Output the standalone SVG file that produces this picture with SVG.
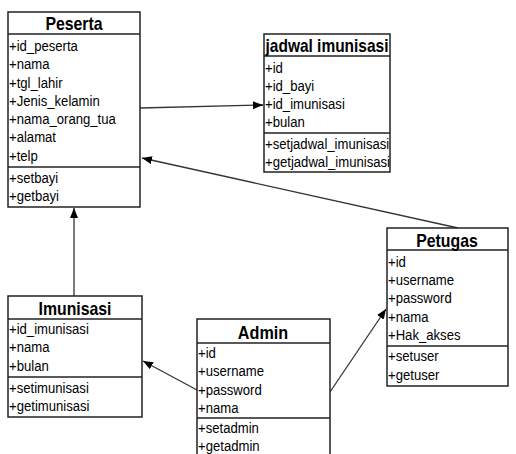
<svg xmlns="http://www.w3.org/2000/svg" width="516" height="454" viewBox="0 0 516 454">
<defs>
<marker id="ah" markerUnits="userSpaceOnUse" markerWidth="10" markerHeight="8" refX="10" refY="4" orient="auto">
<path d="M0,0 L10,4 L0,8 z" fill="#000"/>
</marker>
<style>
.box{fill:#fff;stroke:#222;stroke-width:1.5}
.div{stroke:#222;stroke-width:1.5}
.t{font-family:"Liberation Sans",Arial,sans-serif;font-size:15px;fill:#000}
.h{font-family:"Liberation Sans",Arial,sans-serif;font-size:18px;font-weight:bold;fill:#000;text-anchor:middle}
.c{stroke:#333;stroke-width:1.3;fill:none;marker-end:url(#ah)}
</style>
</defs>
<rect width="516" height="454" fill="#fff"/>
<g id="connectors">
<path class="c" d="M140,108 L263,105"/>
<path class="c" d="M458,228 L142,158"/>
<path class="c" d="M74,296 L74,208"/>
<path class="c" d="M197,390 L143,361"/>
<path class="c" d="M330,392 L386,309"/>
</g>
<g id="peserta">
<rect class="box" x="8" y="12" width="132" height="195"/>
<line class="div" x1="8" y1="34" x2="140" y2="34"/>
<line class="div" x1="8" y1="167" x2="140" y2="167"/>
<text class="h" transform="translate(74 29.5) scale(0.88 1)">Peserta</text>
<g transform="translate(9 0) scale(0.875 1)">
<text class="t" y="51">+id_peserta</text>
<text class="t" y="69">+nama</text>
<text class="t" y="88">+tgl_lahir</text>
<text class="t" y="106">+Jenis_kelamin</text>
<text class="t" y="124">+nama_orang_tua</text>
<text class="t" y="142">+alamat</text>
<text class="t" y="161">+telp</text>
<text class="t" y="183">+setbayi</text>
<text class="t" y="201">+getbayi</text>
</g>
</g>
<g id="jadwal">
<rect class="box" x="264" y="34" width="126" height="138"/>
<line class="div" x1="264" y1="56" x2="390" y2="56"/>
<line class="div" x1="264" y1="133" x2="390" y2="133"/>
<text class="h" transform="translate(327 51.5) scale(0.86 1)">jadwal imunisasi</text>
<g transform="translate(265 0) scale(0.875 1)">
<text class="t" y="73">+id</text>
<text class="t" y="91">+id_bayi</text>
<text class="t" y="109">+id_imunisasi</text>
<text class="t" y="127">+bulan</text>
<text class="t" y="149">+setjadwal_imunisasi</text>
<text class="t" y="167">+getjadwal_imunisasi</text>
</g>
</g>
<g id="petugas">
<rect class="box" x="387" y="228" width="121" height="158"/>
<line class="div" x1="387" y1="250" x2="508" y2="250"/>
<line class="div" x1="387" y1="346" x2="508" y2="346"/>
<text class="h" transform="translate(447 246.5) scale(0.88 1)">Petugas</text>
<g transform="translate(388 0) scale(0.875 1)">
<text class="t" y="267">+id</text>
<text class="t" y="285">+username</text>
<text class="t" y="303">+password</text>
<text class="t" y="322">+nama</text>
<text class="t" y="340">+Hak_akses</text>
<text class="t" y="361">+setuser</text>
<text class="t" y="380">+getuser</text>
</g>
</g>
<g id="imunisasi">
<rect class="box" x="8" y="296" width="134" height="121"/>
<line class="div" x1="8" y1="319" x2="142" y2="319"/>
<line class="div" x1="8" y1="377" x2="142" y2="377"/>
<text class="h" transform="translate(75 314.5) scale(0.88 1)">Imunisasi</text>
<g transform="translate(9 0) scale(0.875 1)">
<text class="t" y="334">+id_imunisasi</text>
<text class="t" y="352">+nama</text>
<text class="t" y="371">+bulan</text>
<text class="t" y="393">+setimunisasi</text>
<text class="t" y="411">+getimunisasi</text>
</g>
</g>
<g id="admin">
<rect class="box" x="197" y="319" width="133" height="145"/>
<line class="div" x1="197" y1="343" x2="330" y2="343"/>
<line class="div" x1="197" y1="418" x2="330" y2="418"/>
<text class="h" transform="translate(263 338.5) scale(0.9 1)">Admin</text>
<g transform="translate(198 0) scale(0.875 1)">
<text class="t" y="358">+id</text>
<text class="t" y="376">+username</text>
<text class="t" y="395">+password</text>
<text class="t" y="413">+nama</text>
<text class="t" y="433">+setadmin</text>
<text class="t" y="451">+getadmin</text>
</g>
</g>
</svg>
